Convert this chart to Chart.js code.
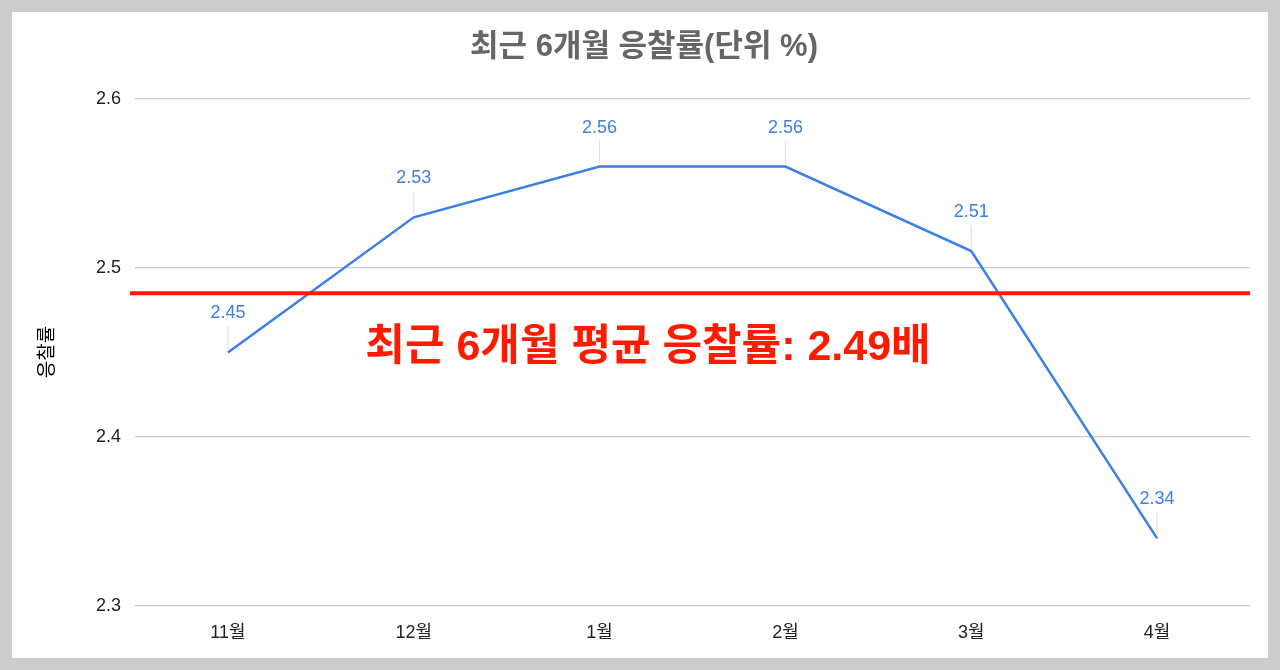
<!DOCTYPE html>
<html><head><meta charset="utf-8">
<script src="https://cdn.jsdelivr.net/npm/chart.js@4"></script>
<style>
html,body{margin:0;padding:0;background:#cccccc;}
#box{position:absolute;left:12px;top:12px;width:1256px;height:646px;background:#fff;}
</style></head>
<body><div id="box"><canvas id="c" width="1256" height="646"></canvas></div>
<script>
const MONTHS = ["11월", "12월", "1월", "2월", "3월", "4월"];
const RATES = [2.45, 2.53, 2.56, 2.56, 2.51, 2.34];
const AVERAGE = 2.485;
const Y_TICKS = [2.3, 2.4, 2.5, 2.6];
const FONT = "'Liberation Sans', 'Noto Sans CJK KR', sans-serif";

const overlay = {
    id: "overlay",
    afterDatasetsDraw(chart) {
        const { ctx, scales: { x, y }, chartArea } = chart;
        ctx.save();
        // average line
        const ya = y.getPixelForValue(AVERAGE);
        ctx.strokeStyle = "#ff1a00";
        ctx.lineWidth = 4;
        ctx.beginPath();
        ctx.moveTo(chartArea.left - 5, ya);
        ctx.lineTo(chartArea.right, ya);
        ctx.stroke();
        // data labels with leaders
        ctx.font = "18px " + FONT;
        ctx.textAlign = "center";
        ctx.textBaseline = "bottom";
        RATES.forEach((v, i) => {
            const px = x.getPixelForValue(i), py = y.getPixelForValue(v);
            ctx.strokeStyle = "#dddddd";
            ctx.lineWidth = 1;
            ctx.beginPath();
            ctx.moveTo(px, py - 3);
            ctx.lineTo(px, py - 26);
            ctx.stroke();
            ctx.fillStyle = "#3c7fe6";
            ctx.fillText(v.toFixed(2), px, py - 30);
        });
        // title
        ctx.fillStyle = "#666666";
        ctx.font = "bold 31px " + FONT;
        ctx.textBaseline = "middle";
        ctx.fillText("최근 6개월 응찰률(단위 %)", 632, 35);
        // average text
        ctx.fillStyle = "#ff1a00";
        ctx.font = "bold 43px " + FONT;
        ctx.fillText("최근 6개월 평균 응찰률: 2.49배", 636, 336);
        // y title
        ctx.fillStyle = "#000";
        ctx.font = "19px " + FONT;
        ctx.translate(36, 340);
        ctx.rotate(-Math.PI / 2);
        ctx.fillText("응찰률", 0, 0);
        ctx.restore();
    },
};

new Chart(document.getElementById("c"), {
    type: "line",
    data: {
        labels: MONTHS,
        datasets: [{
            data: RATES,
            borderColor: "#3c7fe6",
            borderWidth: 2.5,
            pointRadius: 0,
            tension: 0,
        }],
    },
    options: {
        responsive: false,
        animation: false,
        layout: { padding: { top: 87, right: 18, bottom: 0, left: 0 } },
        plugins: { legend: { display: false }, tooltip: { enabled: false } },
        scales: {
            x: {
                offset: true,
                grid: { display: false },
                border: { display: false },
                ticks: { color: "#222", font: { size: 18, family: FONT }, padding: 8 },
                afterFit: (s) => { s.height = 52; },
            },
            y: {
                min: 2.3, max: 2.6,
                afterBuildTicks: (s) => { s.ticks = Y_TICKS.map((v) => ({ value: v })); },
                grid: { color: "#cccccc", lineWidth: 1.2, drawTicks: false },
                border: { display: false },
                ticks: { color: "#222", font: { size: 18, family: FONT }, padding: 14,
                    callback: (v) => v.toFixed(1) },
                afterFit: (s) => { s.width = 123; },
            },
        },
    },
    plugins: [overlay],
});
</script></body></html>
